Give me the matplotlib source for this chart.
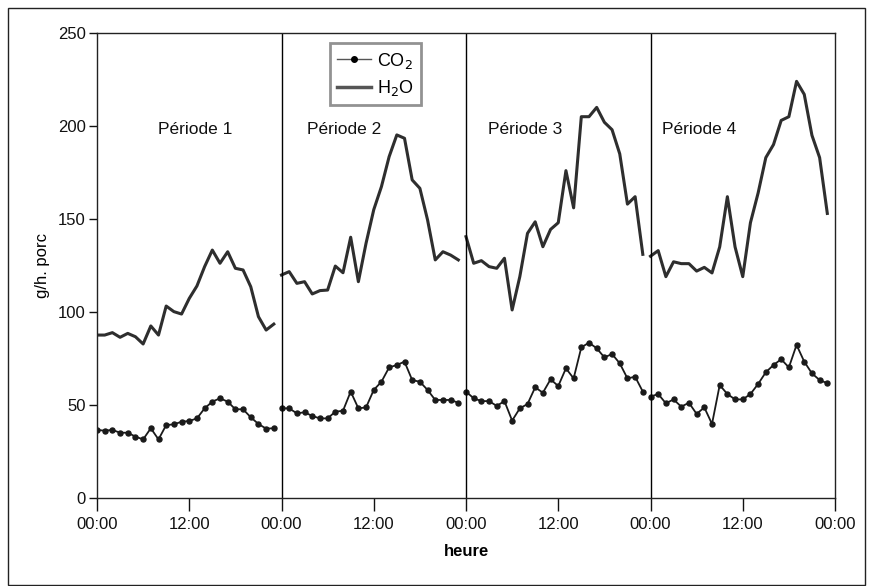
import matplotlib
matplotlib.use("Agg")
import matplotlib.pyplot as plt
import numpy as np
from matplotlib.patches import Rectangle

# hourly values, one list per period (g/h. porc)
co2_p1 = [36.6, 36.2, 36.6, 35.1, 35.1, 33.0, 31.5, 37.5, 31.5, 39.2, 39.6, 41.0,
          41.4, 42.8, 48.2, 51.8, 53.6, 51.8, 47.7, 47.7, 43.4, 39.8, 37.3, 37.5]
co2_p2 = [48.2, 48.2, 45.5, 46.1, 44.1, 42.8, 42.8, 46.4, 46.9, 57.2, 48.2, 48.7,
          58.1, 62.5, 70.2, 71.5, 73.3, 63.4, 62.5, 58.1, 52.7, 52.7, 52.7, 51.2]
co2_p3 = [57.2, 53.6, 52.1, 52.1, 49.5, 52.1, 41.6, 48.2, 50.5, 59.5, 56.6, 63.8,
          60.2, 69.7, 64.3, 81.0, 83.5, 80.5, 75.6, 77.4, 72.4, 64.3, 65.2, 57.2]
co2_p4 = [54.5, 55.9, 50.9, 53.0, 49.1, 51.2, 45.2, 48.7, 39.8, 60.7, 55.9, 53.0,
          53.0, 55.9, 61.3, 67.6, 71.5, 74.6, 70.2, 82.3, 73.3, 67.0, 63.4, 61.7]

h2o_p1 = [87.6, 87.6, 88.9, 86.4, 88.5, 86.7, 82.8, 92.5, 87.6, 103.2, 100.2, 98.9,
          107.3, 114.0, 124.4, 133.3, 126.2, 132.4, 123.5, 122.6, 113.6, 97.5, 90.3, 93.5]
h2o_p2 = [119.9, 121.7, 115.4, 116.3, 109.7, 111.5, 111.8, 124.7, 121.1, 140.2, 116.3, 137.0,
          155.0, 167.4, 183.5, 195.2, 193.4, 171.0, 166.5, 149.5, 128.0, 132.4, 130.6, 128.0]
h2o_p3 = [140.5, 126.2, 127.6, 124.4, 123.5, 128.9, 101.1, 119.0, 142.3, 148.5, 135.1, 144.4,
          148.0, 176.0, 156.0, 205.0, 205.0, 210.0, 202.0, 198.0, 185.0, 158.0, 162.0, 131.0]
h2o_p4 = [130.0, 133.0, 119.0, 127.0, 126.0, 126.0, 122.0, 124.0, 121.0, 135.0, 162.0, 135.0,
          119.0, 148.0, 164.0, 183.0, 190.0, 203.0, 205.0, 224.0, 217.0, 195.0, 183.0, 153.0]

periods = ["Période 1", "Période 2", "Période 3", "Période 4"]
# where each label sits, in hours from the period start
period_label_hour = [12.8, 8.1, 7.7, 6.3]
tick_labels = ["00:00", "12:00"] * 4 + ["00:00"]

plt.rcParams['font.family'] = ['Liberation Sans', 'DejaVu Sans']

fig = plt.figure(figsize=(8.72, 5.86), dpi=100)
ax = fig.add_axes([97 / 872, 1 - 498 / 586, 738 / 872, 465 / 586])

co2_all = [co2_p1, co2_p2, co2_p3, co2_p4]
h2o_all = [h2o_p1, h2o_p2, h2o_p3, h2o_p4]

for i in range(4):
    hours = 24 * i + np.arange(24)
    ax.plot(hours, h2o_all[i], color="#2e2e2e", lw=2.2, solid_joinstyle="round")
    ax.plot(hours, co2_all[i], color="#1a1a1a", lw=1.3, marker="o", ms=3.6)
    ax.text(24 * i + period_label_hour[i], 198, periods[i], ha="center",
            va="center", fontsize=12.5, color="#111111")
    if i > 0:
        ax.axvline(24 * i, color="black", lw=1)

ax.set_xlim(0, 96)
ax.set_ylim(0, 250)
ax.set_xticks(np.arange(0, 97, 12))
ax.set_xticklabels(tick_labels)
ax.set_yticks(np.arange(0, 251, 50))
ax.tick_params(axis="x", length=9, width=1, pad=5, labelsize=12, colors="#111111")
ax.tick_params(axis="y", length=6, width=1, pad=2, labelsize=12, colors="#111111")
for s in ax.spines.values():
    s.set_linewidth(1)
    s.set_color("#222222")

ax.set_xlabel("heure", fontsize=12, fontweight="bold", labelpad=8)
ax.set_ylabel("g/h. porc", fontsize=12, labelpad=6)

# legend handles mimic the picture
h1, = ax.plot([], [], color="#555555", lw=1, marker="o", ms=4,
              markerfacecolor="black", markeredgecolor="black")
h2, = ax.plot([], [], color="#555555", lw=2.5)
leg = ax.legend([h1, h2], ["CO$_2$", "H$_2$O"], loc="upper left",
                bbox_to_anchor=(0.303, 0.997), fontsize=13, frameon=True,
                fancybox=False, handlelength=1.9, handletextpad=0.3,
                borderpad=0.4, labelspacing=0.4)
leg.get_frame().set_edgecolor("#777777")
leg.get_frame().set_linewidth(2)

# outer frame around the whole figure
fig.patches.append(Rectangle((8 / 872, 1 / 586), 857 / 872, 577 / 586,
                             transform=fig.transFigure, fill=False,
                             edgecolor="#222222", lw=1))

fig.savefig("out.png", dpi=100)
